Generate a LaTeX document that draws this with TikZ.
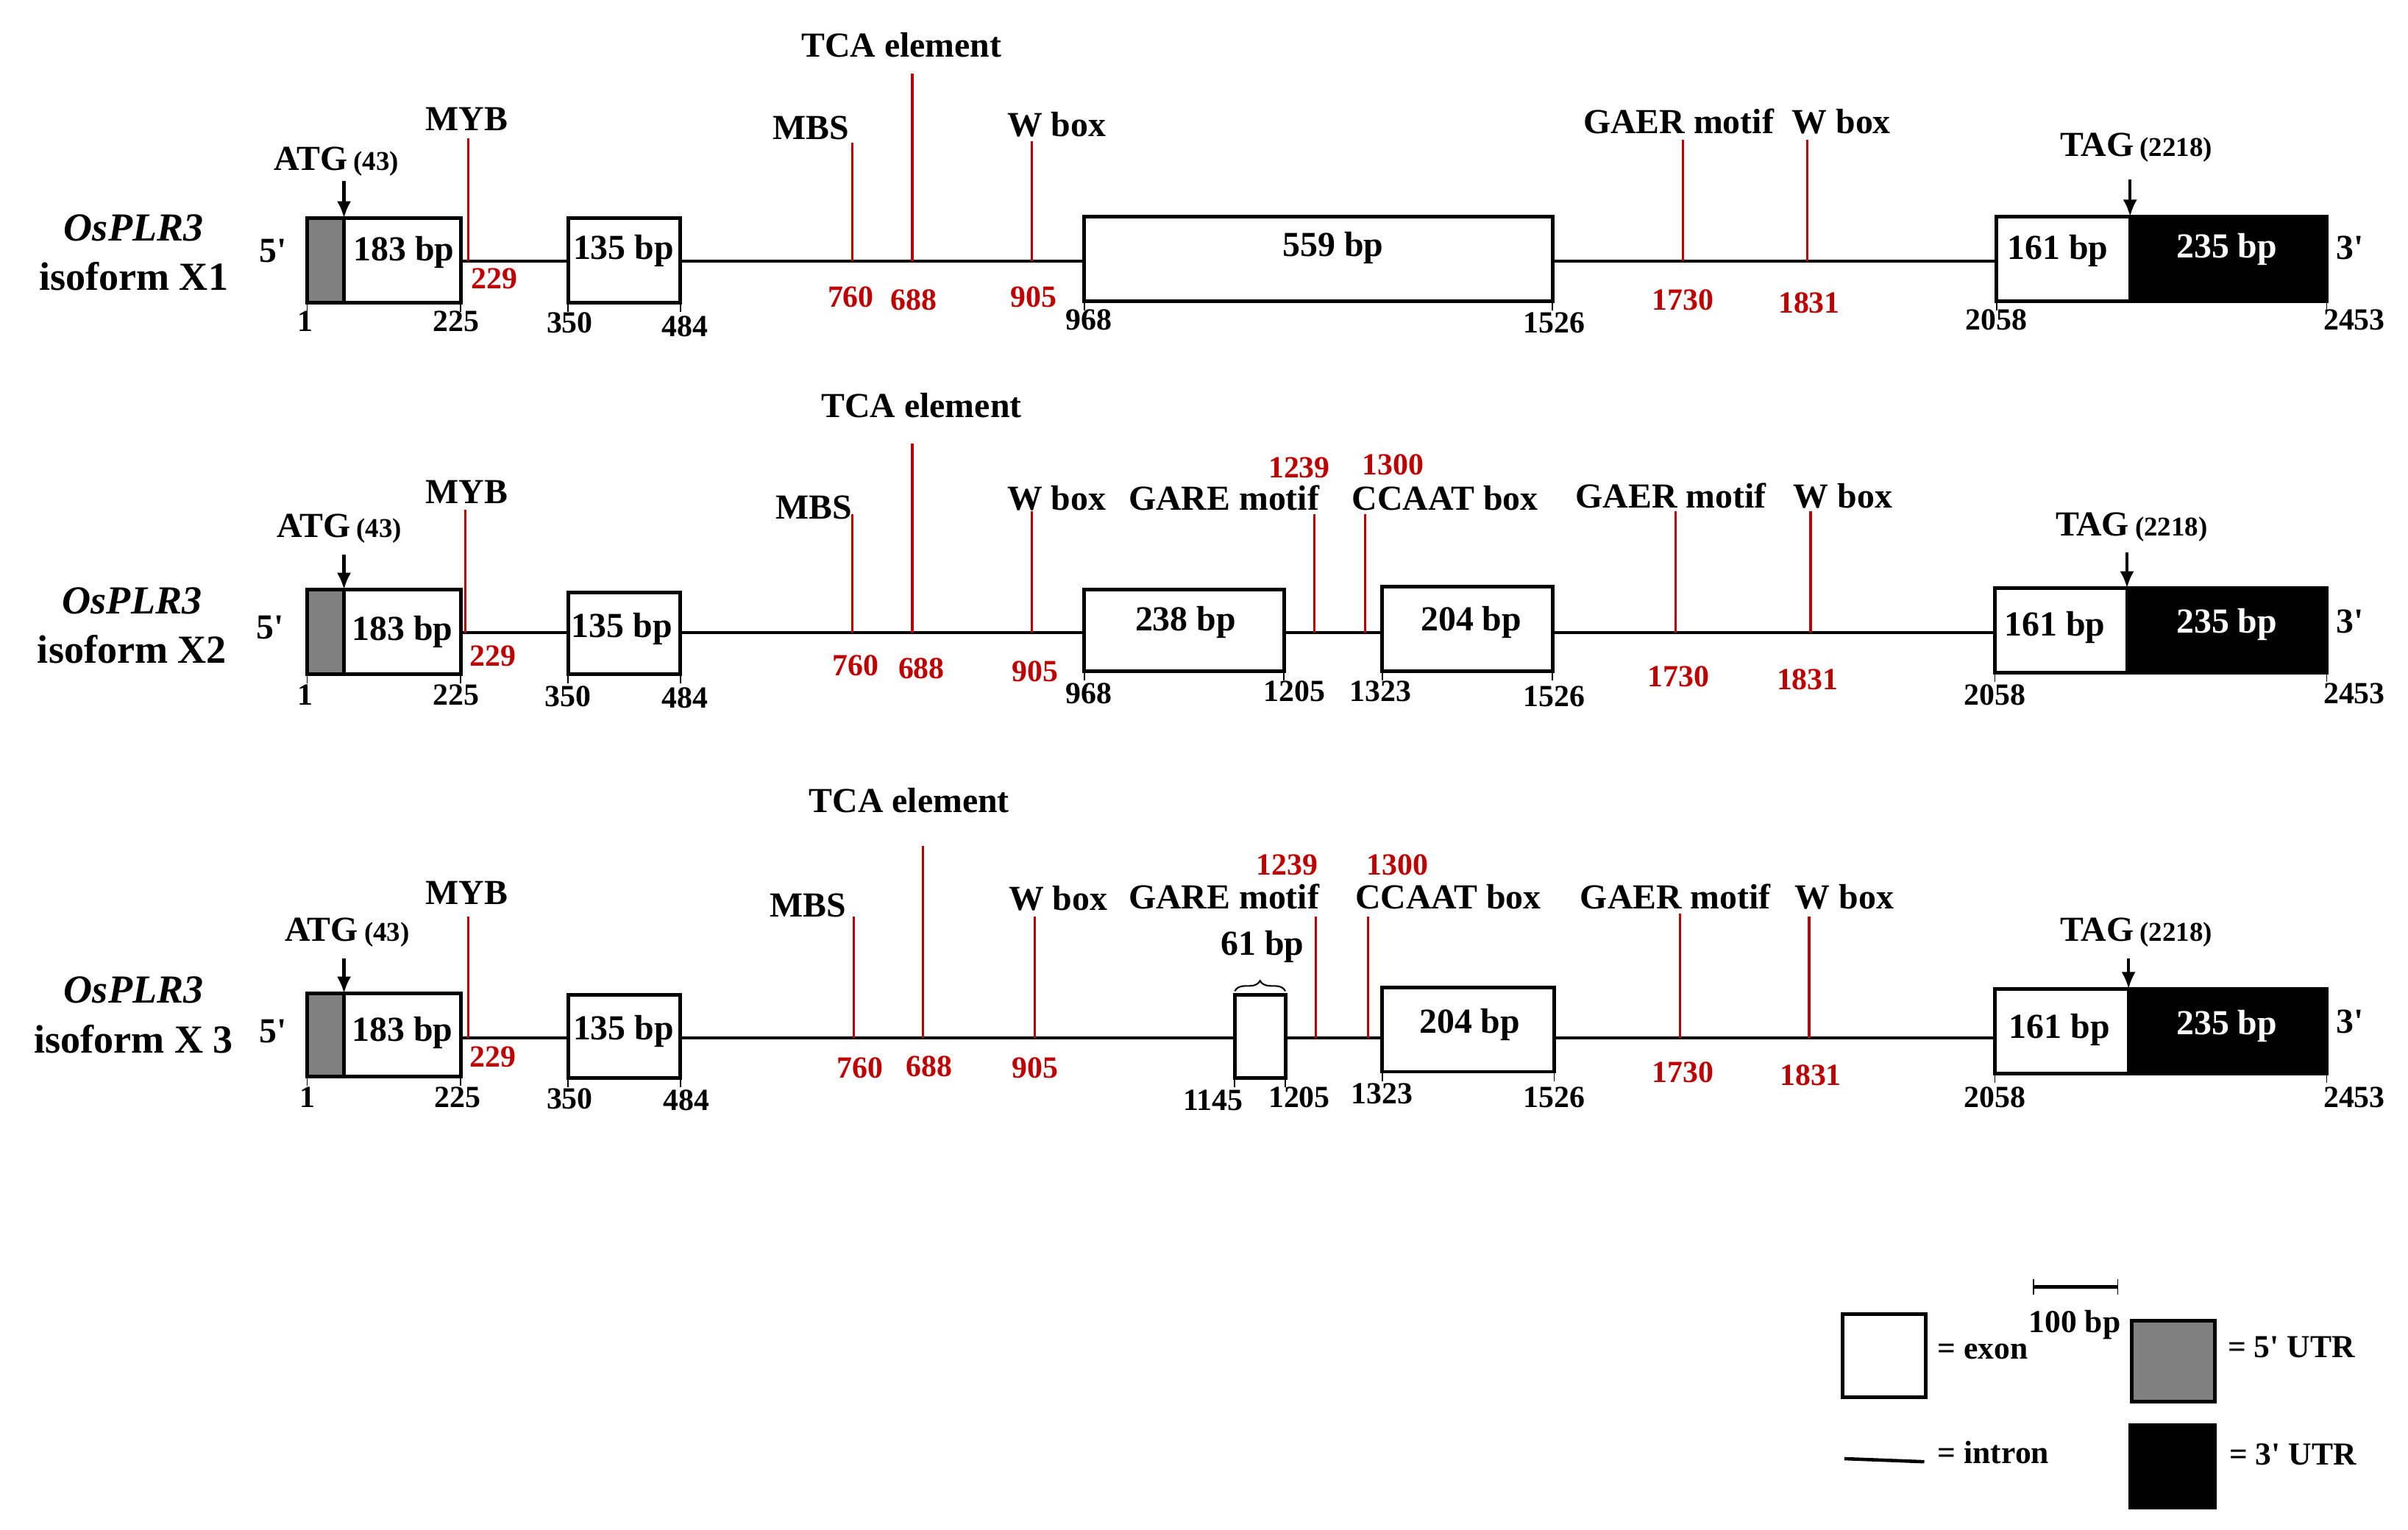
\documentclass[tikz,border=0pt]{standalone}
\usepackage{fontspec}
\setmainfont{Liberation Serif}[Ligatures=TeXOff]
\usetikzlibrary{arrows.meta,decorations.pathreplacing}
\definecolor{mred}{HTML}{C00000}
\definecolor{utrgray}{HTML}{808080}
\newcommand\gbox[6]{%
  \pgfmathsetmacro\gbw{(#4-#3)*0.020874}%
  \pgfmathsetmacro\gbh{(#6-#5)*0.020874}%
  \node[#2,minimum width=\gbw cm,minimum height=\gbh cm] (#1) at ({(#3+#4)/2},{(#5+#6)/2}) {};}
\newcommand\motif[4]{%
  \coordinate (#1) at (#2,#3);
  \draw[motif] (#1) -- (#1 |- #4);}
\begin{document}
\begin{tikzpicture}[x=0.020874cm,y=-0.020874cm,
  exon/.style={draw,line width=1.4pt,fill=white,inner sep=0pt,outer sep=0pt},
  utrfive/.style={exon,fill=utrgray},
  utrthree/.style={exon,fill=black},
  intron/.style={line width=1.3pt},
  motif/.style={draw=mred,line width=0.9pt},
  lab/.style={font=\fontsize{13.6}{16}\selectfont\bfseries,inner sep=0pt,anchor=base},
  num/.style={font=\fontsize{11.9}{14}\selectfont\bfseries,inner sep=0pt,anchor=base},
  rnum/.style={num,text=mred},
  iso/.style={font=\fontsize{15.4}{18}\selectfont\bfseries,inner sep=0pt,anchor=base},
  leg/.style={font=\fontsize{12.4}{15}\selectfont\bfseries,inner sep=0pt,anchor=base},
  tickl/.style={line width=0.5pt},
  arr/.style={line width=1.2pt,-{Latex[length=6.5pt,width=5.5pt]}}]
\useasboundingbox (0,0) rectangle (1568,996);

% ================= Row X1 =================
\coordinate (a-r) at (0,170);
\node[iso] (a-n1) at (87,157) {\itshape OsPLR3};
\node[iso] (a-n2) at (87,189) {isoform X1};
\node[lab] (a-5) at (178,171) {5'};
\node[lab] (a-3) at (1530,169) {3'};
\gbox{a-u1}{utrfive}{200}{224}{142}{197}
\gbox{a-e1}{exon}{224}{300}{142}{197}
\gbox{a-e2}{exon}{370}{443}{142}{197}
\gbox{a-e3}{exon}{706}{1011}{141}{196}
\gbox{a-e4}{exon}{1300}{1387}{141}{196}
\gbox{a-u3}{utrthree}{1387}{1515}{141}{196}
\node[lab] (a-t1) at (263,170) {183 bp};
\node[lab] (a-t2) at (406,169) {135 bp};
\node[lab] (a-t3) at (868,167) {559 bp};
\node[lab] (a-t4) at (1340,169) {161 bp};
\node[lab,text=white] (a-t5) at (1450,168) {235 bp};
\draw[intron] (a-e1.east |- a-r) -- (a-e2.west |- a-r);
\draw[intron] (a-e2.east |- a-r) -- (a-e3.west |- a-r);
\draw[intron] (a-e3.east |- a-r) -- (a-e4.west |- a-r);
\foreach \n/\a in {u1/south west,e1/south east,e2/south west,e2/south east,e3/south west,e3/south east,e4/south west,u3/south east}
  \draw[tickl] (a-\n.\a) -- ++(0,6);
\node[num] (a-p1) at (199,216) {1};
\node[num] (a-p2) at (297,216) {225};
\node[num] (a-p3) at (371,217) {350};
\node[num] (a-p4) at (446,219) {484};
\node[num] (a-p5) at (709,215) {968};
\node[num] (a-p6) at (1012,217) {1526};
\node[num] (a-p7) at (1300,215) {2058};
\node[num] (a-p8) at (1533,215) {2453};
\motif{a-m1}{305}{90}{a-r}
\motif{a-m2}{555}{93}{a-r}
\motif{a-m3}{594}{48}{a-r}
\motif{a-m4}{672}{92}{a-r}
\motif{a-m5}{1096}{91}{a-r}
\motif{a-m6}{1177}{91}{a-r}
\node[lab] (a-l1) at (304,85) {MYB};
\node[lab] (a-l2) at (528,91) {MBS};
\node[lab] (a-l3) at (587,37) {TCA element};
\node[lab] (a-l4) at (688,89) {W box};
\node[lab] (a-l5) at (1093,87) {GAER motif};
\node[lab] (a-l6) at (1199,87) {W box};
\node[rnum] (a-q1) at (322,188) {229};
\node[rnum] (a-q2) at (554,200) {760};
\node[rnum] (a-q3) at (595,202) {688};
\node[rnum] (a-q4) at (673,200) {905};
\node[rnum] (a-q5) at (1096,202) {1730};
\node[rnum] (a-q6) at (1178,204) {1831};
\coordinate (a-atg) at (224,118);
\draw[arr] (a-atg) -- (a-atg |- a-u1.north);
\node[lab] (a-atgl) at (219,111) {ATG\,{\fontsize{10.5}{12}\selectfont(43)}};
\coordinate (a-tag) at (1387,117);
\draw[arr] (a-tag) -- (a-tag |- a-u3.north);
\node[lab] (a-tagl) at (1391,102) {TAG\,{\fontsize{10.5}{12}\selectfont(2218)}};

% ================= Row X2 =================
\coordinate (b-r) at (0,412);
\node[iso] (b-n1) at (86,400) {\itshape OsPLR3};
\node[iso] (b-n2) at (86,432) {isoform X2};
\node[lab] (b-5) at (176,416) {5'};
\node[lab] (b-3) at (1530,412) {3'};
\gbox{b-u1}{utrfive}{200}{224}{384}{439}
\gbox{b-e1}{exon}{224}{300}{384}{439}
\gbox{b-e2}{exon}{370}{443}{386}{439}
\gbox{b-e3}{exon}{706}{836}{384}{437}
\gbox{b-e4}{exon}{900}{1011}{382}{437}
\gbox{b-e5}{exon}{1299}{1385}{383}{438}
\gbox{b-u3}{utrthree}{1385}{1515}{383}{438}
\node[lab] (b-t1) at (262,417) {183 bp};
\node[lab] (b-t2) at (405,415) {135 bp};
\node[lab] (b-t3) at (772,411) {238 bp};
\node[lab] (b-t4) at (958,411) {204 bp};
\node[lab] (b-t5) at (1338,414) {161 bp};
\node[lab,text=white] (b-t6) at (1450,412) {235 bp};
\draw[intron] (b-e1.east |- b-r) -- (b-e2.west |- b-r);
\draw[intron] (b-e2.east |- b-r) -- (b-e3.west |- b-r);
\draw[intron] (b-e3.east |- b-r) -- (b-e4.west |- b-r);
\draw[intron] (b-e4.east |- b-r) -- (b-e5.west |- b-r);
\foreach \n/\a in {u1/south west,e1/south east,e2/south west,e2/south east,e3/south west,e3/south east,e4/south west,e4/south east,e5/south west,u3/south east}
  \draw[tickl] (b-\n.\a) -- ++(0,6);
\node[num] (b-p1) at (199,459) {1};
\node[num] (b-p2) at (297,459) {225};
\node[num] (b-p3) at (370,460) {350};
\node[num] (b-p4) at (446,461) {484};
\node[num] (b-p5) at (709,458) {968};
\node[num] (b-p6) at (843,457) {1205};
\node[num] (b-p7) at (899,457) {1323};
\node[num] (b-p8) at (1012,460) {1526};
\node[num] (b-p9) at (1299,459) {2058};
\node[num] (b-p10) at (1533,458) {2453};
\motif{b-m1}{303}{332}{b-r}
\motif{b-m2}{555}{335}{b-r}
\motif{b-m3}{594}{289}{b-r}
\motif{b-m4}{672}{333}{b-r}
\motif{b-m5}{856}{335}{b-r}
\motif{b-m6}{889}{335}{b-r}
\motif{b-m7}{1091}{333}{b-r}
\motif{b-m8}{1179}{333}{b-r}
\node[lab] (b-l1) at (304,328) {MYB};
\node[lab] (b-l2) at (530,338) {MBS};
\node[lab] (b-l3) at (600,272) {TCA element};
\node[lab] (b-l4) at (688,332) {W box};
\node[lab] (b-l5) at (797,332) {GARE motif};
\node[lab] (b-l6) at (941,332) {CCAAT box};
\node[lab] (b-l7) at (1088,331) {GAER motif};
\node[lab] (b-l8) at (1200,331) {W box};
\node[rnum] (b-q1) at (321,434) {229};
\node[rnum] (b-q2) at (557,440) {760};
\node[rnum] (b-q3) at (600,442) {688};
\node[rnum] (b-q4) at (674,444) {905};
\node[rnum] (b-q5) at (846,311) {1239};
\node[rnum] (b-q6) at (907,309) {1300};
\node[rnum] (b-q7) at (1093,447) {1730};
\node[rnum] (b-q8) at (1177,449) {1831};
\coordinate (b-atg) at (224,361);
\draw[arr] (b-atg) -- (b-atg |- b-u1.north);
\node[lab] (b-atgl) at (221,350) {ATG\,{\fontsize{10.5}{12}\selectfont(43)}};
\coordinate (b-tag) at (1385,360);
\draw[arr] (b-tag) -- (b-tag |- b-u3.north);
\node[lab] (b-tagl) at (1388,349) {TAG\,{\fontsize{10.5}{12}\selectfont(2218)}};

% ================= Row X3 =================
\coordinate (c-r) at (0,676);
\node[iso] (c-n1) at (87,653) {\itshape OsPLR3};
\node[iso] (c-n2) at (87,686) {isoform X 3};
\node[lab] (c-5) at (178,679) {5'};
\node[lab] (c-3) at (1530,673) {3'};
\gbox{c-u1}{utrfive}{200}{224}{647}{701}
\gbox{c-e1}{exon}{224}{300}{647}{701}
\gbox{c-e2}{exon}{370}{443}{648}{702}
\gbox{c-e3}{exon}{804}{837}{648}{702}
\gbox{c-e4}{exon}{900}{1012}{643}{698}
\gbox{c-e5}{exon}{1299}{1386}{644}{699}
\gbox{c-u3}{utrthree}{1386}{1515}{644}{699}
\node[lab] (c-t1) at (262,678) {183 bp};
\node[lab] (c-t2) at (406,677) {135 bp};
\node[lab] (c-t3) at (822,622) {61 bp};
\node[lab] (c-t4) at (957,673) {204 bp};
\node[lab] (c-t5) at (1341,676) {161 bp};
\node[lab,text=white] (c-t6) at (1450,674) {235 bp};
\draw[decorate,decoration={brace,amplitude=4pt},line width=0.6pt]
  ([yshift=1.5pt]c-e3.north west) -- ([yshift=1.5pt]c-e3.north east);
\draw[intron] (c-e1.east |- c-r) -- (c-e2.west |- c-r);
\draw[intron] (c-e2.east |- c-r) -- (c-e3.west |- c-r);
\draw[intron] (c-e3.east |- c-r) -- (c-e4.west |- c-r);
\draw[intron] (c-e4.east |- c-r) -- (c-e5.west |- c-r);
\foreach \n/\a in {u1/south west,e1/south east,e2/south west,e2/south east,e3/south west,e3/south east,e4/south west,e4/south east,e5/south west,u3/south east}
  \draw[tickl] (c-\n.\a) -- ++(0,6);
\node[num] (c-p1) at (200,721) {1};
\node[num] (c-p2) at (298,721) {225};
\node[num] (c-p3) at (371,722) {350};
\node[num] (c-p4) at (447,723) {484};
\node[num] (c-p5) at (790,723) {1145};
\node[num] (c-p6) at (846,721) {1205};
\node[num] (c-p7) at (900,719) {1323};
\node[num] (c-p8) at (1012,721) {1526};
\node[num] (c-p9) at (1299,721) {2058};
\node[num] (c-p10) at (1533,721) {2453};
\motif{c-m1}{305}{597}{c-r}
\motif{c-m2}{556}{597}{c-r}
\motif{c-m3}{601}{551}{c-r}
\motif{c-m4}{674}{597}{c-r}
\motif{c-m5}{857}{597}{c-r}
\motif{c-m6}{891}{597}{c-r}
\motif{c-m7}{1094}{595}{c-r}
\motif{c-m8}{1178}{597}{c-r}
\node[lab] (c-l1) at (304,589) {MYB};
\node[lab] (c-l2) at (526,597) {MBS};
\node[lab] (c-l3) at (592,529) {TCA element};
\node[lab] (c-l4) at (689,593) {W box};
\node[lab] (c-l5) at (797,592) {GARE motif};
\node[lab] (c-l6) at (943,592) {CCAAT box};
\node[lab] (c-l7) at (1091,592) {GAER motif};
\node[lab] (c-l8) at (1201,592) {W box};
\node[rnum] (c-q1) at (321,695) {229};
\node[rnum] (c-q2) at (560,702) {760};
\node[rnum] (c-q3) at (605,701) {688};
\node[rnum] (c-q4) at (674,702) {905};
\node[rnum] (c-q5) at (838,570) {1239};
\node[rnum] (c-q6) at (910,570) {1300};
\node[rnum] (c-q7) at (1096,705) {1730};
\node[rnum] (c-q8) at (1179,707) {1831};
\coordinate (c-atg) at (224,624);
\draw[arr] (c-atg) -- (c-atg |- c-u1.north);
\node[lab] (c-atgl) at (226,613) {ATG\,{\fontsize{10.5}{12}\selectfont(43)}};
\coordinate (c-tag) at (1386,624);
\draw[arr] (c-tag) -- (c-tag |- c-u3.north);
\node[lab] (c-tagl) at (1391,613) {TAG\,{\fontsize{10.5}{12}\selectfont(2218)}};

% ================= Legend =================
\gbox{g-ex}{exon}{1200}{1254}{856}{910}
\node[leg] (g-exl) at (1291,885) {= exon};
\coordinate (g-s1) at (1324,838);
\coordinate (g-s2) at (1379,838);
\draw[line width=1.4pt] (g-s1) -- (g-s2);
\draw[tickl] ([yshift=3pt]g-s1) -- ([yshift=-3pt]g-s1);
\draw[tickl] ([yshift=3pt]g-s2) -- ([yshift=-3pt]g-s2);
\node[leg] (g-scl) at (1351,868) {100 bp};
\gbox{g-u5}{utrfive}{1388}{1442}{860}{913}
\node[leg] (g-u5l) at (1492,884) {= 5' UTR};
\coordinate (g-i1) at (1201,950);
\coordinate (g-i2) at (1253,952);
\draw[intron] (g-i1) -- (g-i2);
\node[leg] (g-il) at (1298,953) {= intron};
\gbox{g-u3}{utrthree}{1387}{1442}{928}{982}
\node[leg] (g-u3l) at (1493,954) {= 3' UTR};
\end{tikzpicture}
\end{document}
